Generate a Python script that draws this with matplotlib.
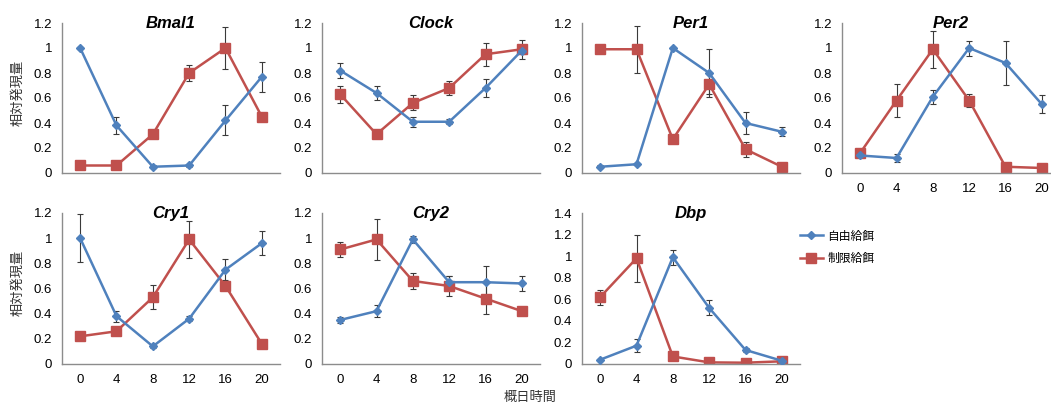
import numpy as np
import matplotlib
matplotlib.use("Agg")
import matplotlib.pyplot as plt

plt.rcParams['font.family'] = ['Liberation Sans', 'Noto Sans CJK JP', 'DejaVu Sans']

hours = ['0', '4', '8', '12', '16', '20']
genes = ['Bmal1', 'Clock', 'Per1', 'Per2', 'Cry1', 'Cry2', 'Dbp']

# 自由給餌 (free feeding)
free_mean = {
    'Bmal1': [1.00, 0.38, 0.05, 0.06, 0.42, 0.77],
    'Clock': [0.82, 0.64, 0.41, 0.41, 0.68, 0.98],
    'Per1':  [0.05, 0.07, 1.00, 0.80, 0.40, 0.33],
    'Per2':  [0.14, 0.12, 0.61, 1.00, 0.88, 0.55],
    'Cry1':  [1.00, 0.38, 0.14, 0.36, 0.75, 0.96],
    'Cry2':  [0.35, 0.42, 0.99, 0.65, 0.65, 0.64],
    'Dbp':   [0.04, 0.17, 0.99, 0.52, 0.13, 0.03],
}
free_err = {
    'Bmal1': [0.01, 0.065, 0.01, 0.01, 0.12, 0.12],
    'Clock': [0.06, 0.055, 0.04, 0.02, 0.07, 0.03],
    'Per1':  [0.01, 0.01, 0.01, 0.19, 0.09, 0.035],
    'Per2':  [0.01, 0.03, 0.055, 0.06, 0.175, 0.07],
    'Cry1':  [0.19, 0.045, 0.01, 0.02, 0.085, 0.095],
    'Cry2':  [0.025, 0.05, 0.03, 0.05, 0.125, 0.06],
    'Dbp':   [0.01, 0.06, 0.07, 0.07, 0.02, 0.01],
}

# 制限給餌 (restricted feeding)
restr_mean = {
    'Bmal1': [0.06, 0.06, 0.31, 0.80, 1.00, 0.45],
    'Clock': [0.63, 0.31, 0.56, 0.68, 0.95, 0.99],
    'Per1':  [0.99, 0.99, 0.27, 0.71, 0.19, 0.05],
    'Per2':  [0.16, 0.58, 0.99, 0.58, 0.05, 0.04],
    'Cry1':  [0.22, 0.26, 0.53, 0.99, 0.62, 0.16],
    'Cry2':  [0.91, 0.99, 0.66, 0.62, 0.52, 0.42],
    'Dbp':   [0.62, 0.98, 0.07, 0.015, 0.012, 0.025],
}
restr_err = {
    'Bmal1': [0.01, 0.01, 0.01, 0.065, 0.165, 0.01],
    'Clock': [0.07, 0.01, 0.06, 0.055, 0.09, 0.075],
    'Per1':  [0.02, 0.19, 0.01, 0.08, 0.06, 0.01],
    'Per2':  [0.02, 0.135, 0.15, 0.05, 0.01, 0.01],
    'Cry1':  [0.01, 0.02, 0.095, 0.148, 0.01, 0.01],
    'Cry2':  [0.06, 0.165, 0.065, 0.08, 0.12, 0.03],
    'Dbp':   [0.07, 0.22, 0.01, 0.01, 0.01, 0.01],
}

blue = '#4F81BD'
red = '#C0504D'
spine_col = '#8C8C8C'
err_col = '#3A3A3A'

W, H = 1051, 404
fig = plt.figure(figsize=(W / 100, H / 100), dpi=100)

lefts = [62, 322, 582, 842]
aw = 218
rows = {0: (23, 173), 1: (213, 364)}

x = np.arange(len(hours))
axes = []
for i, g in enumerate(genes):
    r, c = divmod(i, 4)
    top, bot = rows[r]
    ax = fig.add_axes([lefts[c] / W, 1 - bot / H, aw / W, (bot - top) / H])
    axes.append(ax)
    # error bars sit behind the markers, so the tiny ones are hidden
    ax.errorbar(x, restr_mean[g], yerr=restr_err[g], fmt='none', ecolor=err_col,
                elinewidth=0.8, capsize=2.2, capthick=0.8, zorder=1)
    ax.errorbar(x, free_mean[g], yerr=free_err[g], fmt='none', ecolor=err_col,
                elinewidth=0.8, capsize=2.2, capthick=0.8, zorder=1)
    ax.plot(x, restr_mean[g], color=red, lw=1.8, marker='s', ms=6.5, label='制限給餌', zorder=2)
    ax.plot(x, free_mean[g], color=blue, lw=1.8, marker='D', ms=4.5, label='自由給餌', zorder=3)
    ax.set_xlim(-0.5, 5.5)
    if g == 'Dbp':
        ax.set_ylim(0, 1.4)
        ticks = np.arange(0, 1.41, 0.2)
    else:
        ax.set_ylim(0, 1.2)
        ticks = np.arange(0, 1.21, 0.2)
    ax.set_yticks(ticks)
    ax.set_yticklabels(['0' if t == 0 else ('1' if abs(t - 1) < 1e-9 else f'{t:.1f}') for t in ticks])
    ax.set_xticks(x)
    if r == 1 or g == 'Per2':
        ax.set_xticklabels(hours)
    else:
        ax.set_xticklabels([])
    ax.tick_params(length=0, labelsize=9.5, pad=7)
    for s in ['top', 'right']:
        ax.spines[s].set_visible(False)
    for s in ['left', 'bottom']:
        ax.spines[s].set_color(spine_col)
        ax.spines[s].set_linewidth(1.0)
    ax.set_title(g, fontsize=12, fontweight='bold', style='italic', pad=0, y=0.965)

fig.text(18 / W, 1 - 93 / H, '相対発現量', rotation=90, ha='center', va='center',
         fontsize=9.5, color='#333333', family=['Noto Sans CJK JP', 'DejaVu Sans'])
fig.text(18 / W, 1 - 283 / H, '相対発現量', rotation=90, ha='center', va='center',
         fontsize=9.5, color='#333333', family=['Noto Sans CJK JP', 'DejaVu Sans'])
fig.text(530 / W, 1 - 397 / H, '概日時間', ha='center', va='center',
         fontsize=9.5, color='#333333', family=['Noto Sans CJK JP', 'DejaVu Sans'])

handles, labels = axes[0].get_legend_handles_labels()
handles, labels = handles[::-1], labels[::-1]
leg = fig.legend(handles, labels, loc='upper left', bbox_to_anchor=(789 / W, 1 - 219 / H),
                 frameon=False, handlelength=2.0, labelspacing=0.8, handletextpad=0.35,
                 prop={'family': 'Noto Sans CJK JP', 'size': 8.5})

fig.savefig('out.png', dpi=100)
